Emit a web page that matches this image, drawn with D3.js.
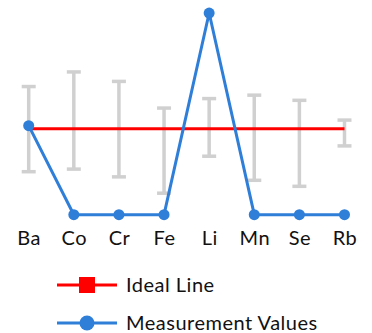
<!DOCTYPE html>
<html>
<head>
<meta charset="utf-8">
<script src="https://cdn.jsdelivr.net/npm/d3@7"></script>
<style>
  body { margin: 0; background: #fff; }
  svg { display: block; font-family: Lato, 'Noto Sans', sans-serif; }
</style>
</head>
<body>
<script>
'use strict'

const elements = ['Ba', 'Co', 'Cr', 'Fe', 'Li', 'Mn', 'Se', 'Rb']
const idealValues = [1, 1, 1, 1, 1, 1, 1, 1]
const measured = [1.035, 0, 0, 0, 2.345, 0, 0, 0]
const errLow = [0.5, 0.53, 0.44, 0.25, 0.68, 0.4, 0.33, 0.8]
const errHigh = [1.49, 1.66, 1.55, 1.24, 1.35, 1.39, 1.33, 1.1]
const legendNames = ['Ideal Line', 'Measurement Values']

const width = 372
const height = 333
const red = '#ff0000'
const blue = '#2f7ed8'

const svg = d3.select('body').append('svg')
  .attr('width', width)
  .attr('height', height)

const x = d3.scalePoint()
  .domain(elements)
  .range([28.7, 344.5])

const y = d3.scaleLinear()
  .domain([0, 1])
  .range([214.7, 128.7])

// error bars go underneath
const bars = svg.append('g')
  .attr('stroke', '#d0d0d0')
  .attr('stroke-width', 3.5)

elements.forEach(function (el, i) {
  const cx = x(el)
  bars.append('line')
    .attr('x1', cx).attr('x2', cx)
    .attr('y1', y(errLow[i])).attr('y2', y(errHigh[i]))
  bars.append('line')
    .attr('x1', cx - 7).attr('x2', cx + 7)
    .attr('y1', y(errLow[i])).attr('y2', y(errLow[i]))
  bars.append('line')
    .attr('x1', cx - 7).attr('x2', cx + 7)
    .attr('y1', y(errHigh[i])).attr('y2', y(errHigh[i]))
})

const line = d3.line()
  .x(function (d) { return x(d[0]) })
  .y(function (d) { return y(d[1]) })

svg.append('path')
  .datum(d3.zip(elements, idealValues))
  .attr('fill', 'none')
  .attr('stroke', red)
  .attr('stroke-width', 3)
  .attr('d', line)

svg.append('path')
  .datum(d3.zip(elements, measured))
  .attr('fill', 'none')
  .attr('stroke', blue)
  .attr('stroke-width', 3)
  .attr('stroke-linejoin', 'round')
  .attr('d', line)

svg.append('g')
  .selectAll('circle')
  .data(d3.zip(elements, measured))
  .enter()
  .append('circle')
  .attr('cx', function (d) { return x(d[0]) })
  .attr('cy', function (d) { return y(d[1]) })
  .attr('r', 5.5)
  .attr('fill', blue)

// category labels, no axis line
const xAxis = svg.append('g')
  .attr('transform', 'translate(0,231)')
  .call(d3.axisBottom(x).tickSize(0).tickPadding(0))

xAxis.select('.domain').remove()
xAxis.selectAll('text')
  .attr('dy', '0.71em')
  .attr('font-size', 20)
  .attr('letter-spacing', 0.5)
  .attr('font-family', 'Lato, sans-serif')
  .attr('fill', '#111')

// legend
const legend = svg.append('g')
const legendY = [285, 323]

legendNames.forEach(function (name, i) {
  const g = legend.append('g').attr('transform', 'translate(0,' + legendY[i] + ')')
  const c = i === 0 ? red : blue
  g.append('line')
    .attr('x1', 57).attr('x2', 117)
    .attr('stroke', c)
    .attr('stroke-width', 3)
  if (i === 0) {
    g.append('rect')
      .attr('x', 79).attr('y', -8)
      .attr('width', 16).attr('height', 16)
      .attr('fill', c)
  } else {
    g.append('circle')
      .attr('cx', 87).attr('r', 7.5)
      .attr('fill', c)
  }
  g.append('text')
    .attr('x', 126)
    .attr('dy', '0.35em')
    .attr('font-size', 20)
    .attr('letter-spacing', 0.5)
    .attr('fill', '#111')
    .text(name)
})
</script>
</body>
</html>
